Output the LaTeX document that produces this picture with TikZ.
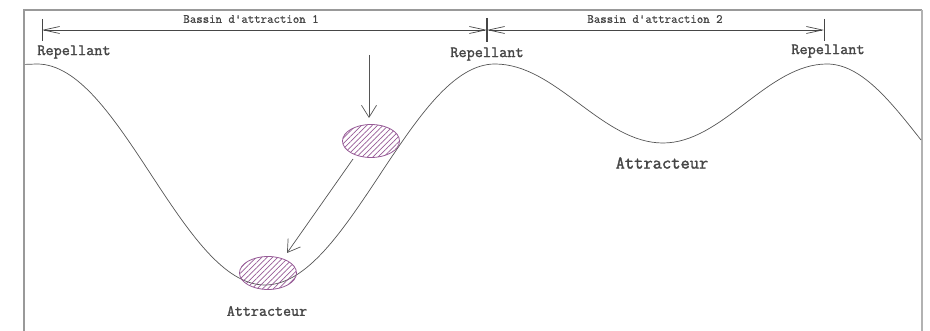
\documentclass[tikz,border=0pt]{standalone}
\usepackage{fontspec}
\newfontfamily\heavytt{Latin Modern Mono}[FakeBold=1.6]
\newfontfamily\midtt{Latin Modern Mono}[FakeBold=1.0]
\usetikzlibrary{arrows.meta,shapes.geometric,patterns.meta}
\definecolor{hatch}{RGB}{150,90,150}
\definecolor{ink}{RGB}{70,70,70}
\definecolor{curvecol}{RGB}{85,85,85}
\tikzset{
  lbl/.style={text=ink,inner sep=0pt},
  basslbl/.style={text=ink,font=\midtt\fontsize{12.5}{12.5}\selectfont,inner sep=0pt},
  ball/.style={ellipse,draw=hatch,line width=0.8pt,minimum width=57pt,minimum height=33pt,inner sep=0pt,
    pattern={Lines[angle=45,distance=3.8pt,line width=0.7pt]},pattern color=hatch},
  dimline/.style={draw=ink,line width=0.7pt,{Straight Barb[length=16pt,width=7pt]}-{Straight Barb[length=16pt,width=7pt]}},
  tickmark/.style={draw=ink,line width=1pt},
  fall/.style={draw=curvecol,line width=0.7pt,-{Straight Barb[length=12pt,width=15pt]}},
}
\begin{document}
\begin{tikzpicture}[x=1pt,y=-1pt]
\useasboundingbox (0,0) rectangle (930,331);
% frame
\draw[draw=gray!80,line width=1.8pt] (24,331) -- (24,10) -- (922,10);
\draw[draw=gray!60,line width=1.4pt] (922,10) -- (922,331);
% curve
\draw[curvecol,line width=0.7pt] (25,64.4) -- (37,64) cos (151,174.5) sin (265,285) cos (380,174.5) sin (495,64)
  cos (579,103.5) sin (663,143) cos (745,103.5) sin (827,64) cos (921,140);
% dimension ticks
\coordinate (tl) at (42,30);
\coordinate (tm) at (487,30);
\coordinate (tr) at (824,30);
\draw[tickmark] (42,19) -- (42,41);
\draw[tickmark,line width=1.8pt] (487,18) -- (487,42);
\draw[tickmark] (824,19) -- (824,41);
\draw[dimline] (tl) -- (tm);
\draw[dimline] (tm) -- (tr);
\node[basslbl] (b1) at (251,19) {Bassin d'attraction 1};
\node[basslbl] (b2) at (655,19) {Bassin d'attraction 2};
% labels
\node[lbl,font=\heavytt\fontsize{15.8}{15.8}\selectfont] (r1) at (74,52) {Repellant};
\node[lbl,font=\heavytt\fontsize{15.8}{15.8}\selectfont] (r2) at (487,54) {Repellant};
\node[lbl,font=\heavytt\fontsize{15.8}{15.8}\selectfont] (r3) at (828,51) {Repellant};
\node[lbl,font=\heavytt\fontsize{15.6}{15.6}\selectfont] (a1) at (267,311) {Attracteur};
\node[lbl,font=\heavytt\fontsize{18}{18}\selectfont] (a2) at (662,163) {Attracteur};
% balls
\node[ball] (ball1) at (371,141) {};
\node[ball] (ball2) at (268,273) {};
% arrows
\coordinate (top) at (369,55);
\coordinate (topend) at (369,118);
\coordinate (d1) at (353,159);
\coordinate (d2) at (287,253);
\draw[fall] (top) -- (topend);
\draw[fall] (d1) -- (d2);
\end{tikzpicture}
\end{document}
